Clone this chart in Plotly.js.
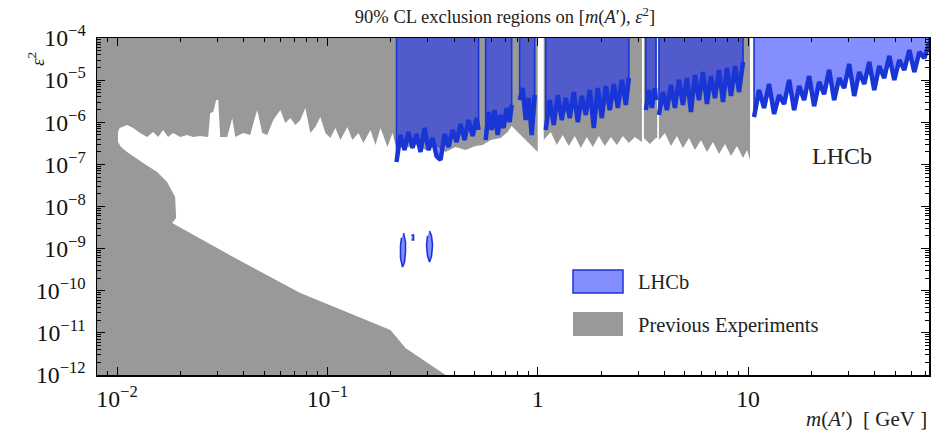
<!DOCTYPE html>
<html><head><meta charset="utf-8">
<script src="https://cdn.plot.ly/plotly-3.0.1.min.js"></script>
<style>html,body{margin:0;padding:0;background:#fff}#chart{width:931px;height:432px}</style>
</head><body><div id="chart"></div>
<script>
// ---- axis extents (GeV, epsilon^2) ----
const xRange = [0.00803, 72.5];
const yRange = [1e-12, 1e-4];

// ---- LHCb 90% CL upper limits (excluded above), per mass window ----
const lhcbMassA = [0.2131,0.2227,0.2326,0.2430,0.2540,0.2653,0.2772,0.2897,0.3027,0.3162,0.3304,0.3452,0.3607,0.3768,0.3937,0.4114,0.4298,0.4491,0.4692,0.4903,0.5122,0.5236];
const lhcbEpsA  = [1.14e-7,4.98e-7,2.19e-7,5.87e-7,2.45e-7,5.26e-7,1.97e-7,7.30e-7,2.19e-7,4.23e-7,1.58e-7,1.27e-7,5.26e-7,2.58e-7,6.55e-7,3.40e-7,9.09e-7,3.79e-7,1.13e-6,4.72e-7,1.26e-6,6.55e-7];
const lhcbMassB = [0.5656,0.5843,0.6039,0.6240,0.6449,0.6664,0.6888,0.7117,0.7356,0.7519];
const lhcbEpsB  = [3.79e-7,1.75e-6,6.55e-7,1.95e-6,4.98e-7,1.49e-6,7.30e-7,2.18e-6,1.01e-6,2.57e-6];
const lhcbMassC = [0.8208,0.8483,0.8767,0.9061,0.9363,0.9676];
const lhcbEpsC  = [3.37e-6,6.50e-6,1.13e-6,3.76e-6,4.98e-7,4.43e-6];
const lhcbMassD = [1.0916,1.1404,1.1918,1.2452,1.3013,1.3594,1.4204,1.4840,1.5506,1.6201,1.6929,1.7685,1.8478,1.9307,2.0173,2.1076,2.2023,2.3010,2.4044,2.5119,2.6242,2.7128];
const lhcbEpsD  = [6.55e-7,3.37e-6,8.60e-7,4.43e-6,1.13e-6,3.76e-6,1.26e-6,5.22e-6,1.01e-6,4.20e-6,1.49e-6,5.83e-6,7.30e-7,6.50e-6,1.26e-6,7.25e-6,1.95e-6,8.09e-6,2.18e-6,1.01e-5,2.57e-6,1.12e-5];
const lhcbMassE = [3.268,3.378,3.491,3.607,3.648];
const lhcbEpsE  = [1.95e-6,5.83e-6,2.18e-6,6.50e-6,3.37e-6];
const lhcbMassF = [3.770,3.939,4.115,4.299,4.491,4.692,4.902,5.123,5.353,5.592,5.843,6.105,6.379,6.665,6.964,7.275,7.603,7.943,8.299,8.672,9.060,9.467];
const lhcbEpsF  = [1.49e-6,5.22e-6,1.95e-6,7.66e-6,2.18e-6,1.01e-5,2.57e-6,1.12e-5,1.75e-6,1.32e-5,3.37e-6,1.56e-5,2.71e-6,1.25e-5,3.76e-6,1.74e-5,3.03e-6,1.94e-5,4.20e-6,2.16e-5,5.22e-6,2.69e-5];
const lhcbMassG = [10.68,11.28,11.92,12.59,13.30,14.05,14.84,15.68,16.56,17.50,18.48,19.52,20.62,21.78,23.01,24.30,25.67,27.12,28.65,30.27,31.97,33.78,35.68,37.69,39.81,42.06,44.43,46.94,49.58,52.37,55.34,58.45,61.75,65.23,68.90,72.5];
const lhcbEpsG  = [1.33e-6,5.83e-6,2.18e-6,8.09e-6,1.57e-6,4.43e-6,2.71e-6,1.01e-5,1.95e-6,7.25e-6,3.37e-6,1.25e-5,2.43e-6,9.03e-6,4.68e-6,1.74e-5,3.37e-6,1.12e-5,6.50e-6,2.41e-5,4.20e-6,1.56e-5,8.09e-6,2.69e-5,5.83e-6,2.16e-5,1.12e-5,3.74e-5,1.01e-5,3.00e-5,1.74e-5,5.19e-5,1.56e-5,4.65e-5,3.35e-5,7.20e-5];

// ---- LHCb displaced-search islands ----
const islandMass1 = [0.2301,0.2351,0.2351,0.2326,0.2276,0.2227,0.2227,0.2251];
const islandEps1  = [2.35e-9,1.44e-9,8.31e-10,4.81e-10,3.66e-10,5.99e-10,1.15e-9,1.79e-9];
const islandMass2 = [0.2512,0.2567,0.2567,0.2512];
const islandEps2  = [2.11e-9,2.11e-9,1.60e-9,1.60e-9];
const islandMass3 = [0.3060,0.3127,0.3162,0.3127,0.3060,0.2994,0.2961,0.2994];
const islandEps3  = [2.62e-9,2.00e-9,1.22e-9,6.68e-10,4.81e-10,6.68e-10,1.22e-9,2.00e-9];

// ---- previous experiments: prompt-search lower edges (excluded above) ----
const grayMass1 = [0.00803,0.0101,0.0103,0.01116,0.01192,0.01287,0.01390,0.01484,0.01568,0.01656,0.01749,0.01848,0.01995,0.02154,0.02301,0.02485,0.02712,0.02772,0.02864,0.02960,0.03027,0.03094,0.03341,0.03528,0.03647,0.03981,0.04298,0.04491,0.04642,0.04902,0.05179,0.05532,0.05973,0.06310,0.06665,0.07041,0.07437,0.07856,0.08299,0.08767,0.09261,0.09783,0.1033,0.1092,0.1153,0.1245,0.1315,0.1405,0.1484,0.1603,0.1693,0.1789,0.1931,0.2040,0.2108,0.2351,0.2624,0.2929,0.3268,0.3647,0.4070,0.4541,0.5068,0.5472,0.5973,0.6665,0.7197,0.7519,0.9890,1.000];
const grayEps1  = [7.30e-7,5.87e-7,7.30e-7,8.60e-7,7.30e-7,5.56e-7,4.47e-7,5.87e-7,4.47e-7,6.55e-7,4.47e-7,5.56e-7,4.47e-7,4.98e-7,4.47e-7,4.72e-7,4.47e-7,1.66e-6,1.75e-6,3.37e-6,3.37e-6,4.47e-7,4.47e-7,1.26e-6,4.47e-7,5.56e-7,4.98e-7,1.13e-6,1.95e-6,5.56e-7,4.98e-7,1.13e-6,1.95e-6,9.6e-7,1.26e-6,8.60e-7,1.13e-6,2.18e-6,5.56e-7,7.71e-7,1.33e-6,5.56e-7,4.23e-7,7.30e-7,3.79e-7,7.71e-7,3.79e-7,5.56e-7,3.22e-7,6.55e-7,2.88e-7,7.30e-7,2.58e-7,5.56e-7,2.88e-7,2.45e-7,2.88e-7,2.19e-7,2.73e-7,1.97e-7,2.58e-7,2.19e-7,2.73e-7,2.88e-7,3.79e-7,4.23e-7,5.87e-7,8.15e-7,1.97e-7,1.97e-7];
const grayMass2 = [1.068,1.153,1.232,1.315,1.405,1.501,1.603,1.711,1.828,1.952,2.085,2.227,2.378,2.540,2.713,2.897,3.094,3.13];
const grayEps2  = [3.79e-7,5.87e-7,2.88e-7,4.98e-7,2.73e-7,4.72e-7,2.45e-7,4.47e-7,2.58e-7,4.72e-7,2.73e-7,4.47e-7,2.88e-7,4.72e-7,3.22e-7,4.47e-7,3.40e-7,3.40e-7];
const grayMass3 = [3.198,3.415,3.647,3.70];
const grayEps3  = [4.23e-7,3.05e-7,4.23e-7,4.23e-7];
const grayMass4 = [3.770,4.026,4.299,4.591,4.902,5.236,5.592,5.973,6.379,6.812,7.275,7.772,8.299,8.864,9.467,9.890,10.22];
const grayEps4  = [3.79e-7,5.56e-7,2.73e-7,4.72e-7,2.45e-7,4.23e-7,2.19e-7,3.79e-7,1.97e-7,3.40e-7,1.76e-7,3.05e-7,1.58e-7,2.73e-7,1.42e-7,2.19e-7,1.27e-7];

// ---- previous experiments: beam-dump region (closed outline) ----
const dumpMass = [0.00803,0.00803,0.0101,0.0101,0.01045,0.01116,0.01330,0.01551,0.01730,0.01889,0.01910,0.01828,0.03567,0.07437,0.1995,0.2351,0.3647];
const dumpEps  = [1e-12,7.30e-7,7.30e-7,3.40e-7,2.58e-7,1.97e-7,1.08e-7,6.59e-8,3.82e-8,1.68e-8,5.33e-9,4.06e-9,6.33e-10,8.85e-11,1.17e-11,4.37e-12,1e-12];

// ---- text ----
const titleText = '90% CL exclusion regions on [<i>m</i>(<i>A</i>′), <i>ε</i><sup>2</sup>]';
const xTitle = '<i>m</i>(<i>A</i>′)\u00a0\u00a0[\u00a0GeV\u00a0]';
const yTitle = '<i>ε</i><sup>2</sup>';
const legendLabels = ['LHCb', 'Previous Experiments'];

// ---- build polygons ----
const TOP = yRange[1];
function topPoly(ms, es) {
  return {x: [ms[0]].concat(ms, [ms[ms.length - 1]]), y: [TOP].concat(es, [TOP])};
}
function closed(ms, es) { return {x: ms.slice(), y: es.slice()}; }
function join(polys) {
  const x = [], y = [];
  polys.forEach((p, i) => { if (i) { x.push(null); y.push(null); } x.push(...p.x); y.push(...p.y); });
  return {x, y};
}
const grayTop = join([topPoly(grayMass1, grayEps1), topPoly(grayMass2, grayEps2), topPoly(grayMass3, grayEps3), topPoly(grayMass4, grayEps4)]);
const grayDump = closed(dumpMass, dumpEps);
const lhcbSegs = [[lhcbMassA, lhcbEpsA], [lhcbMassB, lhcbEpsB], [lhcbMassC, lhcbEpsC], [lhcbMassD, lhcbEpsD], [lhcbMassE, lhcbEpsE], [lhcbMassF, lhcbEpsF], [lhcbMassG, lhcbEpsG]];
const lhcb = join(lhcbSegs.map(s => topPoly(s[0], s[1])).concat([
  closed(islandMass1, islandEps1), closed(islandMass2, islandEps2), closed(islandMass3, islandEps3)
]));
const lhcbEdge = join(lhcbSegs.map(s => ({x: s[0], y: s[1]})));

const GRAY = '#999999';
const BLUE_FILL = 'rgba(10,30,255,0.5)';
const BLUE_LINE = '#1a35d6';
const FONT = 'Liberation Serif, Times New Roman, serif';

const traces = [
  {x: grayTop.x, y: grayTop.y, type: 'scatter', mode: 'lines', fill: 'toself', fillcolor: GRAY, line: {width: 0}, hoverinfo: 'skip', name: legendLabels[1]},
  {x: grayDump.x, y: grayDump.y, type: 'scatter', mode: 'lines', fill: 'toself', fillcolor: GRAY, line: {width: 0}, hoverinfo: 'skip', name: legendLabels[1]},
  {x: lhcb.x, y: lhcb.y, type: 'scatter', mode: 'lines', fill: 'toself', fillcolor: BLUE_FILL, line: {color: BLUE_LINE, width: 1.6}, hoverinfo: 'skip', name: legendLabels[0]},
  {x: lhcbEdge.x, y: lhcbEdge.y, type: 'scatter', mode: 'lines', line: {color: BLUE_LINE, width: 4.5, join: 'miter'}, hoverinfo: 'skip', showlegend: false},
  // carrier for the minor-tick overlay axes
  {x: [], y: [], type: 'scatter', xaxis: 'x2', yaxis: 'y2', hoverinfo: 'skip', showlegend: false}
];

// minor tick positions 2..9 within each decade
function minorVals(e0, e1) {
  const v = [];
  for (let e = e0; e < e1; e++) for (let k = 2; k <= 9; k++) v.push(k * Math.pow(10, e));
  return v;
}
const xr = [Math.log10(xRange[0]), Math.log10(xRange[1])];
const yr = [Math.log10(yRange[0]), Math.log10(yRange[1])];
const common = {type: 'log', ticks: 'inside', tickcolor: '#000', tickwidth: 1, showgrid: false, zeroline: false, mirror: 'allticks'};
const xaxis = Object.assign({}, common, {
  range: xr, tickmode: 'linear', tick0: 0, dtick: 1, exponentformat: 'power', ticklen: 8,
  showline: true, linecolor: '#000', linewidth: 1.5, ticklabelstandoff: 3,
  tickfont: {family: FONT, size: 19, color: '#111'}
});
const yaxis = Object.assign({}, common, {
  range: yr, tickmode: 'linear', tick0: 0, dtick: 1, exponentformat: 'power', ticklen: 8,
  showline: true, linecolor: '#000', linewidth: 1.5, ticklabelstandoff: 6,
  tickfont: {family: FONT, size: 19, color: '#111'}
});
const xaxis2 = Object.assign({}, common, {range: xr, overlaying: 'x', anchor: 'y2', tickmode: 'array', tickvals: minorVals(-3, 2), ticklen: 4, showticklabels: false, showline: false});
const yaxis2 = Object.assign({}, common, {range: yr, overlaying: 'y', anchor: 'x2', tickmode: 'array', tickvals: minorVals(-12, -4), ticklen: 4, showticklabels: false, showline: false});

const L = 97, R = 929, T = 38, B = 375;
const px = v => (v - L) / (R - L);
const py = v => (B - v) / (B - T);

const layout = {
  width: 931, height: 432,
  margin: {l: 97, r: 2, t: 38, b: 57},
  paper_bgcolor: '#fff', plot_bgcolor: '#fff', showlegend: false,
  title: {text: titleText, font: {family: FONT, size: 18.5, color: '#222'}, xref: 'paper', x: px(505), xanchor: 'center', yref: 'container', y: 1 - 17 / 432, yanchor: 'middle'},
  xaxis, yaxis, xaxis2, yaxis2,
  shapes: [
    {type: 'rect', xref: 'paper', yref: 'paper', x0: px(573), x1: px(623), y0: py(293), y1: py(270), fillcolor: BLUE_FILL, line: {color: BLUE_LINE, width: 1.5}},
    {type: 'rect', xref: 'paper', yref: 'paper', x0: px(573), x1: px(623), y0: py(336), y1: py(312), fillcolor: GRAY, line: {width: 0}}
  ],
  annotations: [
    {text: yTitle, xref: 'paper', yref: 'paper', x: px(22), y: py(50), textangle: -90, showarrow: false, font: {family: FONT, size: 19, color: '#222'}},
    {text: xTitle, xref: 'paper', yref: 'paper', x: 1, xanchor: 'right', y: py(419), yanchor: 'middle', showarrow: false, font: {family: FONT, size: 21, color: '#222'}},
    {text: 'LHCb', xref: 'paper', yref: 'paper', x: px(842), y: py(156), xanchor: 'center', yanchor: 'middle', showarrow: false, font: {family: FONT, size: 24, color: '#222'}},
    {text: legendLabels[0], xref: 'paper', yref: 'paper', x: px(636), y: py(282), xanchor: 'left', yanchor: 'middle', showarrow: false, font: {family: FONT, size: 20.5, color: '#222'}},
    {text: legendLabels[1], xref: 'paper', yref: 'paper', x: px(636), y: py(325), xanchor: 'left', yanchor: 'middle', showarrow: false, font: {family: FONT, size: 20.5, color: '#222'}}
  ]
};

Plotly.newPlot('chart', traces, layout, {displayModeBar: false, staticPlot: true});
</script>
</body></html>
